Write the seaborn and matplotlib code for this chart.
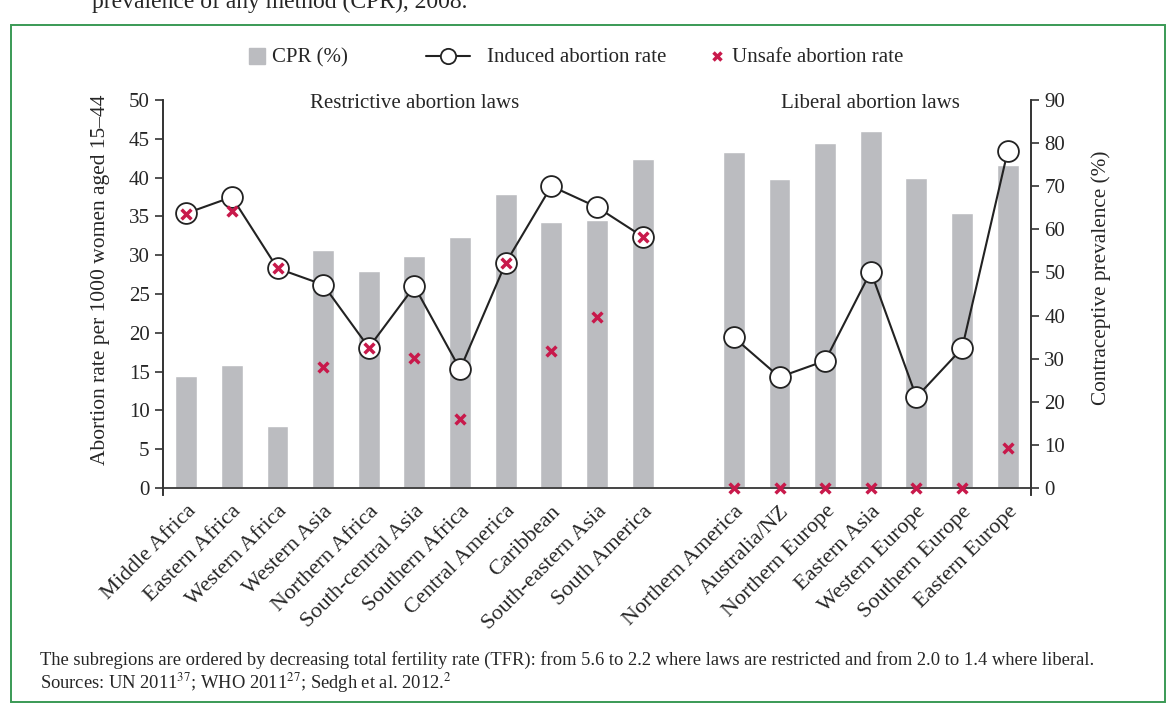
import numpy as np
import pandas as pd
import seaborn as sns
import matplotlib.pyplot as plt
from matplotlib.lines import Line2D
from matplotlib.patches import Rectangle

sns.set_style('white')
plt.rcParams['font.family'] = ['Liberation Serif', 'DejaVu Serif']
plt.rcParams['mathtext.fontset'] = 'stix'

# restrictive laws, then liberal laws (ordered by decreasing TFR)
restrictive = ['Middle Africa', 'Eastern Africa', 'Western Africa', 'Western Asia',
               'Northern Africa', 'South-central Asia', 'Southern Africa',
               'Central America', 'Caribbean', 'South-eastern Asia', 'South America']
liberal = ['Northern America', 'Australia/NZ', 'Northern Europe', 'Eastern Asia',
           'Western Europe', 'Southern Europe', 'Eastern Europe']

cpr_restr = [26.0, 28.5, 14.4, 55.2, 50.3, 53.8, 58.3, 68.1, 61.7, 62.2, 76.3]
cpr_lib = [77.9, 71.6, 80.1, 82.8, 71.9, 63.8, 74.9]
induced_restr = [35.4, 37.5, 28.3, 26.2, 18.1, 26.0, 15.3, 29.0, 38.9, 36.2, 32.4]
induced_lib = [19.4, 14.3, 16.4, 27.9, 11.7, 18.0, 43.4]
unsafe_restr = [35.3, 35.7, 28.3, 15.6, 18.1, 16.8, 8.9, 29.0, 17.7, 22.0, 32.4]
unsafe_lib = [0, 0, 0, 0, 0, 0, 5.2]

df = pd.DataFrame({
    'region': restrictive + liberal,
    'law': ['restrictive'] * len(restrictive) + ['liberal'] * len(liberal),
    'cpr': cpr_restr + cpr_lib,
    'induced': induced_restr + induced_lib,
    'unsafe': unsafe_restr + unsafe_lib,
})
# one empty slot between the two groups
df['pos'] = list(range(len(restrictive))) + [len(restrictive) + 1 + i for i in range(len(liberal))]

bar_color = '#bbbcc0'
red = '#c8194b'
dark = '#222222'

fig = plt.figure(figsize=(11.7, 7.15), dpi=100)
ax = fig.add_axes([0.1397, 0.3077, 0.7411, 0.5524])
ax2 = ax.twinx()

sns.barplot(data=df, x='pos', y='cpr', native_scale=True, width=0.48,
            color=bar_color, saturation=1, ax=ax2)
ax.set_zorder(ax2.get_zorder() + 1)
ax.patch.set_visible(False)

for law, sub in df.groupby('law'):
    sns.lineplot(data=sub, x='pos', y='induced', color=dark, lw=1.5, ax=ax,
                 marker='o', markersize=15, markerfacecolor='white',
                 markeredgecolor=dark, markeredgewidth=1.3, zorder=3)
sns.scatterplot(data=df, x='pos', y='unsafe', marker='x', s=50, linewidth=2.5,
                color=red, ax=ax, zorder=4)

ax.axhline(0, color='#444444', lw=1.4, zorder=2)
ax.set_xlim(-0.5, 18.5)
ax.set_ylim(-0.9, 50)
ax2.set_ylim(-1.62, 90)
ax.set_yticks(range(0, 51, 5))
ax2.set_yticks(range(0, 91, 10))
ax.set_xticks(df['pos'])
ax.set_xticklabels(df['region'], rotation=45, ha='right', rotation_mode='anchor', fontsize=16)
ax.tick_params(axis='x', length=0, pad=5)
ax.tick_params(axis='y', direction='out', length=6, width=1.2, color='#333333',
               labelsize=15, left=True, pad=4)
ax2.tick_params(axis='y', direction='out', length=6, width=1.2, color='#333333',
                labelsize=15, right=True, pad=4)
for a in (ax, ax2):
    for s in ('top', 'bottom'):
        a.spines[s].set_visible(False)
    for s in ('left', 'right'):
        a.spines[s].set_color('#333333')
        a.spines[s].set_linewidth(1.2)
    a.grid(False)
ax2.set_xlabel('')
ax.set_xlabel('')
ax.set_ylabel('Abortion rate per 1000 women aged 15\u201344', fontsize=15.5)
ax2.set_ylabel('Contraceptive prevalence (%)', fontsize=15.3, rotation=90)
ax.yaxis.set_label_coords(-0.062, 0.545)
ax2.yaxis.set_label_coords(1.0697, 0.55)

ax.text(5, 49.6, 'Restrictive abortion laws', ha='center', va='center', fontsize=15)
ax.text(15, 49.6, 'Liberal abortion laws', ha='center', va='center', fontsize=15)

# legend laid out by hand to match the spacing of the original
ly = 1 - 56 / 715
ty = 1 - 58 / 715
fig.add_artist(Line2D([257 / 1170], [ly], ls='none', marker='s', markersize=12,
                      color=bar_color, transform=fig.transFigure))
fig.text(272 / 1170, ty, 'CPR (%)', fontsize=15, va='center', ha='left')
fig.add_artist(Line2D([426 / 1170, 470 / 1170], [ly, ly], color=dark, lw=1.5,
                      transform=fig.transFigure))
fig.add_artist(Line2D([448 / 1170], [ly], ls='none', marker='o', markersize=11,
                      markerfacecolor='white', markeredgecolor=dark, markeredgewidth=1.3,
                      transform=fig.transFigure))
fig.text(487 / 1170, ty, 'Induced abortion rate', fontsize=15, va='center', ha='left')
fig.add_artist(Line2D([717 / 1170], [ly], ls='none', marker='x', markersize=6,
                      markeredgewidth=2.5, color=red, transform=fig.transFigure))
fig.text(732 / 1170, ty, 'Unsafe abortion rate', fontsize=15, va='center', ha='left')

fig.text(92 / 1170, 1 - 8 / 715, 'prevalence of any method (CPR), 2008.',
         fontsize=17, va='baseline', ha='left')
fig.text(40 / 1170, 1 - 660 / 715,
         'The subregions are ordered by decreasing total fertility rate (TFR): from 5.6 to 2.2 '
         'where laws are restricted and from 2.0 to 1.4 where liberal.',
         fontsize=13.3, va='center', ha='left')
fig.text(40 / 1170, 1 - 683 / 715,
         r'Sources: UN 2011$^{37}$; WHO 2011$^{27}$; Sedgh et al. 2012.$^{2}$',
         fontsize=13.3, va='center', ha='left')

fig.add_artist(Rectangle((11 / 1170, 1 - 702 / 715), 1154 / 1170, 677 / 715,
                         transform=fig.transFigure, fill=False, edgecolor='#3a9a55', lw=1.4))

fig.savefig('out.png', dpi=100)
